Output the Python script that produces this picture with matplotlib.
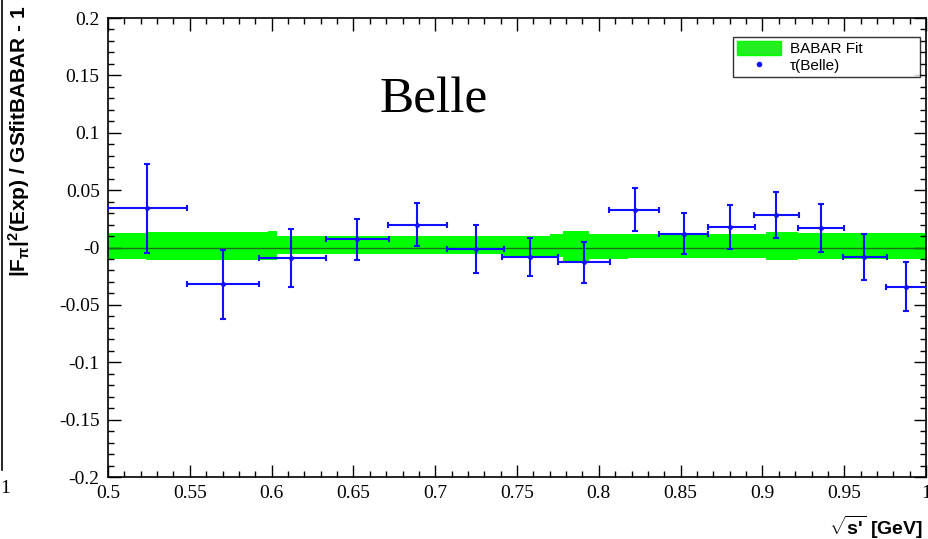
import matplotlib
matplotlib.use("Agg")
import matplotlib.pyplot as plt
import numpy as np
from matplotlib.patches import Patch
from matplotlib.lines import Line2D
from matplotlib.ticker import MultipleLocator, FixedLocator, FixedFormatter

plt.rcParams["mathtext.fontset"] = "custom"
plt.rcParams["mathtext.rm"] = "Liberation Sans:bold"
plt.rcParams["mathtext.it"] = "Liberation Sans:bold"
plt.rcParams["mathtext.bf"] = "Liberation Sans:bold"
plt.rcParams["axes.unicode_minus"] = False

# Belle tau data, ratio to BABAR GS fit
x_center = [0.524, 0.570, 0.612, 0.652, 0.689, 0.725, 0.758, 0.791, 0.822, 0.852,
            0.880, 0.9085, 0.936, 0.962, 0.988]
x_left = [0.500, 0.548, 0.592, 0.633, 0.671, 0.707, 0.741, 0.775, 0.806, 0.837,
          0.867, 0.895, 0.922, 0.949, 0.9755]
x_right = [0.5485, 0.592, 0.633, 0.672, 0.707, 0.742, 0.775, 0.807, 0.837, 0.867,
           0.8955, 0.9226, 0.950, 0.976, 1.002]
y_val = [0.034, -0.032, -0.009, 0.007, 0.020, -0.001, -0.008, -0.013, 0.033, 0.012,
         0.018, 0.028, 0.017, -0.008, -0.034]
y_err = [0.039, 0.030, 0.025, 0.018, 0.019, 0.021, 0.0165, 0.018, 0.019, 0.018,
         0.0194, 0.020, 0.0207, 0.020, 0.021]

# BABAR fit band (step edges and band limits per segment)
band_edges = [0.500, 0.523, 0.598, 0.603, 0.741, 0.770, 0.778, 0.794, 0.818, 0.902, 0.922, 1.000]
band_upper = [0.0125, 0.0134, 0.0148, 0.0096, 0.0096, 0.0120, 0.0148, 0.0120, 0.0120, 0.0134, 0.0125]
band_lower = [-0.0100, -0.0105, -0.0105, -0.0060, -0.0078, -0.0085, -0.0120, -0.0103, -0.0090, -0.0110, -0.0103]

x_ticks = [0.5, 0.55, 0.6, 0.65, 0.7, 0.75, 0.8, 0.85, 0.9, 0.95, 1.0]
x_tick_labels = ["0.5", "0.55", "0.6", "0.65", "0.7", "0.75", "0.8", "0.85", "0.9", "0.95", "1"]
y_ticks = [-0.2, -0.15, -0.1, -0.05, 0.0, 0.05, 0.1, 0.15, 0.2]
y_tick_labels = ["-0.2", "-0.15", "-0.1", "-0.05", "-0", "0.05", "0.1", "0.15", "0.2"]

fig = plt.figure(figsize=(9.29, 5.39), dpi=100)
ax = fig.add_axes([0.1163, 0.115, 0.8805, 0.8516])

ub = band_upper + [band_upper[-1]]
lb = band_lower + [band_lower[-1]]
ax.fill_between(band_edges, lb, ub, step="post", color="#00ff00", lw=0, zorder=1)
ax.axhline(0.0, color="#1a6e1a", lw=1.0, zorder=2)

xc = np.array(x_center)
xerr = [xc - np.array(x_left), np.array(x_right) - xc]
ax.errorbar(x_center, y_val, yerr=y_err, xerr=xerr, fmt="o", color="#1010ff",
            ms=2.5, lw=1.5, capsize=2.5, capthick=1.5, zorder=3)

ax.set_xlim(0.5, 1.0)
ax.set_ylim(-0.2, 0.2)
ax.xaxis.set_major_locator(FixedLocator(x_ticks))
ax.xaxis.set_major_formatter(FixedFormatter(x_tick_labels))
ax.yaxis.set_major_locator(FixedLocator(y_ticks))
ax.yaxis.set_major_formatter(FixedFormatter(y_tick_labels))
ax.xaxis.set_minor_locator(MultipleLocator(0.01))
ax.yaxis.set_minor_locator(MultipleLocator(0.01))
ax.tick_params(which="both", direction="in", top=True, right=True, width=1.0, color="black")
ax.tick_params(which="major", length=9, labelsize=14, pad=6)
ax.tick_params(which="minor", length=4.5)
for lab in ax.get_xticklabels() + ax.get_yticklabels():
    lab.set_fontfamily("Liberation Serif")
for sp in ax.spines.values():
    sp.set_linewidth(1.2)

ax.text(0.398, 0.821, "Belle", transform=ax.transAxes, fontsize=37,
        family="Liberation Serif", ha="center", va="center")

handles = [Patch(facecolor="#22ee22", edgecolor="#00ff00", label="BABAR Fit"),
           Line2D([], [], marker="o", ls="none", color="#1010ff", ms=3, label="\u03c4(Belle)")]
leg = ax.legend(handles=handles, loc="upper left", mode="expand",
                bbox_to_anchor=(0.764, 0.8627, 0.2286, 0.0959),
                frameon=True, fancybox=False, borderpad=0.25, borderaxespad=0.0,
                handlelength=2.9, handleheight=1.1, handletextpad=0.6, labelspacing=0.1,
                prop={"family": "Liberation Sans", "size": 11})
leg.get_frame().set_edgecolor("black")
leg.get_frame().set_linewidth(1.0)

fig.text(0.02, 0.99, r"|F$_{\pi}$|$^{2}$(Exp) / GSfitBABAR - 1",
         rotation=90, ha="center", va="top", fontsize=15,
         family="Liberation Sans", fontweight="bold")
fig.text(0.994, 0.022, r"$\sqrt{\text{s'}}$ [GeV]", ha="right", va="center", fontsize=14,
         family="Liberation Sans", fontweight="bold")

# remnant of the neighbouring panel at the left edge
fig.add_artist(Line2D([0.002, 0.002], [0.128, 1.0], color="black", lw=1.2))
fig.text(0.0, 0.093, "1", family="Liberation Serif", fontsize=14, ha="left", va="center")

fig.savefig("out.png", dpi=100)
